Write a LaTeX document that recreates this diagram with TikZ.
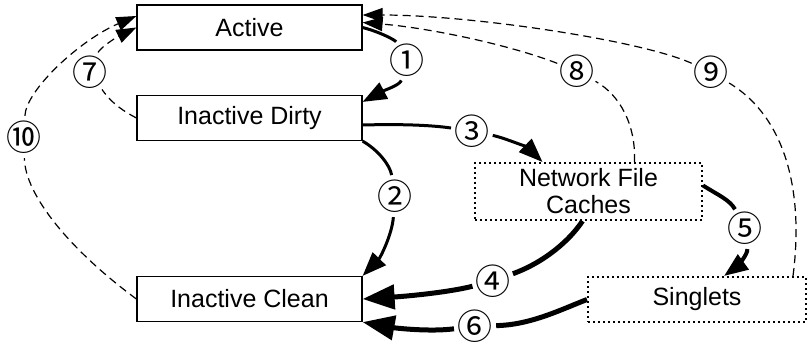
\documentclass[tikz,border=0pt]{standalone}
\usepackage{fontspec}
\setmainfont{Liberation Sans}
\newfontfamily\circfont{Noto Sans CJK JP}
\usetikzlibrary{arrows.meta}

\begin{document}
\begin{tikzpicture}[x = 1pt, y = -1pt,
  box/.style = {draw, line width = 1.2pt, minimum width = 225pt, minimum height = 45pt, inner sep = 0pt, font = \fontsize{25}{27}\selectfont},
  dotbox/.style = {box, dash pattern = on 2pt off 3pt, line width = 2pt},
  num/.style = {circle, inner sep = -6pt, minimum size = 42pt, font = \circfont\fontsize{35}{35}\selectfont},
  flow/.style = {line width = 3pt},
  bigflow/.style = {line width = 5pt},
  back/.style = {line width = 1.2pt, dash pattern = on 8pt off 5pt},
  tip/.style = {-{Triangle[length = 24pt, width = 18pt]}},
  bigtip/.style = {-{Triangle[length = 32pt, width = 24pt]}},
  thintip/.style = {-{Triangle[length = 20pt, width = 14pt]}}]
\useasboundingbox (0,0) rectangle (807,345);

\node [box] (active) at (249.5,27.5) {Active};
\node [box] (dirty) at (249.5,118) {Inactive Dirty};
\node [box] (clean) at (249.5,299) {Inactive Clean};
\node [dotbox, minimum width = 227pt, minimum height = 57pt, align = center] (nfc) at (588.5,191.5) {Network File\\Caches};
\node [dotbox, minimum width = 218pt] (singlets) at (697,299.5) {Singlets};

\node [num] (n1) at (407,60) {①};
\node [num] (n2) at (395,196) {②};
\node [num] (n3) at (472,131) {③};
\node [num] (n4) at (493,281) {④};
\node [num] (n5) at (745,228) {⑤};
\node [num] (n6) at (475,326) {⑥};
\node [num] (n7) at (90,72) {⑦};
\node [num] (n8) at (577,71) {⑧};
\node [num] (n9) at (711,72) {⑨};
\node [num] (n10) at (24,137) {⑩};

\draw [flow] (active.east) .. controls (380,32) and (395,40) .. (n1);
\draw [flow, tip] (n1) .. controls (400,85) and (385,90) .. ([yshift = -7pt]dirty.north east);
\draw [flow] (dirty.south east) .. controls (378,150) and (390,165) .. (n2);
\draw [flow, tip] (n2) .. controls (392,235) and (380,258) .. (clean.north east);
\draw [flow] ([yshift = -7pt]dirty.east) .. controls (400,124) and (430,125) .. (n3);
\draw [flow, tip] (n3) .. controls (505,138) and (528,148) .. ([xshift = -46pt]nfc.north);
\draw [bigflow] ([xshift = -6pt]nfc.south) .. controls (570,240) and (545,262) .. (n4);
\draw [bigflow, bigtip] (n4) .. controls (450,292) and (410,296) .. (clean.east);
\draw [line width = 4pt] ([yshift = 6pt]nfc.east) .. controls (718,195) and (730,200) .. (n5);
\draw [line width = 4pt, tip] (n5) .. controls (748,255) and (735,268) .. ([xshift = 27pt]singlets.north);
\draw [bigflow] (singlets.west) .. controls (560,310) and (530,325) .. (n6);
\draw [bigflow, bigtip] (n6) .. controls (430,332) and (395,328) .. (clean.south east);

\draw [back] (dirty.west) .. controls (125,112) and (112,104) .. (n7);
\draw [back, thintip] (n7) .. controls (100,48) and (115,38) .. (active.west);
\draw [back] ([xshift = 46pt]nfc.north) .. controls (636,125) and (620,95) .. (n8);
\draw [back, thintip] (n8) .. controls (510,45) and (430,28) .. ([yshift = 5pt]active.east);
\draw [back] ([xshift = -14pt]singlets.north east) .. controls (803,200) and (790,120) .. (n9);
\draw [back, thintip] (n9) .. controls (640,40) and (470,15) .. ([yshift = 12.5pt]active.east);
\draw [back] (clean.west) .. controls (70,250) and (25,195) .. (n10);
\draw [back, thintip] (n10) .. controls (26,90) and (80,40) .. ([yshift = 11.5pt]active.west);
\end{tikzpicture}
\end{document}
